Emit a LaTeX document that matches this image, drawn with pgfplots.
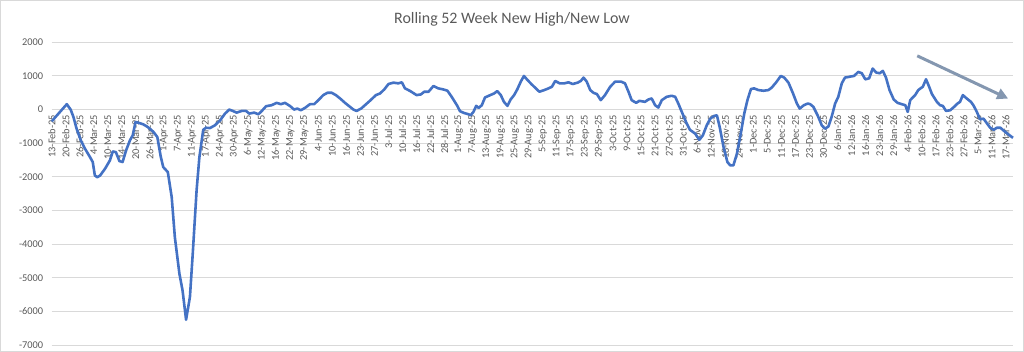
\documentclass[border=0pt]{standalone}
\usepackage{fontspec}
\setmainfont{Carlito}
\usepackage{pgfplots}
\pgfplotsset{compat=1.18}
\usetikzlibrary{arrows.meta}
\definecolor{linebl}{HTML}{4472C4}
\definecolor{txtgray}{HTML}{595959}
\definecolor{gridgray}{HTML}{D9D9D9}
\definecolor{arrowgray}{HTML}{8497B0}
\begin{document}
\begin{tikzpicture}
\draw[gridgray, line width=1bp] (0.5bp,0.5bp) rectangle (1023.5bp,351.5bp);
\node[font=\fontsize{16}{19}\selectfont, text=txtgray] at (512bp,333bp) {Rolling 52 Week New High/New Low};
\begin{axis}[
  at={(51.7bp,7bp)}, anchor=south west,
  scale only axis, width=961.3bp, height=302.7bp,
  xmin=0, xmax=274, ymin=-7000, ymax=2000,
  axis x line=middle, axis y line=left,
  axis line style={draw=none},
  hide obscured x ticks=false, hide obscured y ticks=false,
  major tick length=0pt,
  ymajorgrids, grid style={gridgray, line width=1bp},
  ytick={-7000,-6000,-5000,-4000,-3000,-2000,-1000,0,1000,2000},
  yticklabels={-7000,-6000,-5000,-4000,-3000,-2000,-1000,0,1000,2000},
  xtick={0,4,...,272},
  xticklabels={13-Feb-25, 20-Feb-25, 26-Feb-25, 4-Mar-25, 10-Mar-25, 14-Mar-25, 20-Mar-25, 26-Mar-25, 1-Apr-25, 7-Apr-25, 11-Apr-25, 17-Apr-25, 24-Apr-25, 30-Apr-25, 6-May-25, 12-May-25, 16-May-25, 22-May-25, 29-May-25, 4-Jun-25, 10-Jun-25, 16-Jun-25, 23-Jun-25, 27-Jun-25, 3-Jul-25, 10-Jul-25, 16-Jul-25, 22-Jul-25, 28-Jul-25, 1-Aug-25, 7-Aug-25, 13-Aug-25, 19-Aug-25, 25-Aug-25, 29-Aug-25, 5-Sep-25, 11-Sep-25, 17-Sep-25, 23-Sep-25, 29-Sep-25, 3-Oct-25, 9-Oct-25, 15-Oct-25, 21-Oct-25, 27-Oct-25, 31-Oct-25, 6-Nov-25, 12-Nov-25, 18-Nov-25, 24-Nov-25, 1-Dec-25, 5-Dec-25, 11-Dec-25, 17-Dec-25, 23-Dec-25, 30-Dec-25, 6-Jan-26, 12-Jan-26, 16-Jan-26, 23-Jan-26, 29-Jan-26, 4-Feb-26, 10-Feb-26, 17-Feb-26, 23-Feb-26, 27-Feb-26, 5-Mar-26, 11-Mar-26, 17-Mar-26},
  xticklabel style={rotate=90, anchor=east, font=\fontsize{10.4}{12}\selectfont, text=txtgray},
  yticklabel style={font=\fontsize{10.4}{12}\selectfont, text=txtgray},
  xticklabel shift=2bp, yticklabel shift=5bp,
  clip=false,
]
\addplot[linebl, line width=2.6bp, line join=round, mark=none] coordinates {
(0,-350) (4.3,160) (5.4,0) (6.2,-220) (7.1,-570) (8.3,-915) (9.5,-1165) (10.9,-1410)
(11.7,-1560) (12.3,-1960) (13.0,-2010) (13.8,-1960) (15.2,-1760) (16.6,-1510) (17.4,-1245)
(18.3,-1265) (19.3,-1530) (20.2,-1560) (21.2,-1215) (22.3,-915) (23.1,-765) (23.9,-370)
(24.7,-390) (26.1,-440) (27.1,-500) (28.0,-570) (29.0,-665) (30.1,-815) (31.1,-1410)
(31.8,-1710) (33.1,-1860) (34.2,-2600) (35.1,-3790) (36.4,-4880) (37.3,-5380) (38.3,-6250)
(39.4,-5570) (40.2,-4290) (41.3,-2400) (42.1,-1410) (43.2,-600) (44.0,-540) (45.1,-550)
(46.5,-470) (48.0,-320) (49.4,-120) (50.6,0) (51.6,-40) (52.7,-90) (54.2,-40) (55.4,-40)
(56.3,-120) (57.7,-90) (58.9,-140) (59.9,-40) (61.1,100) (62.7,130) (64.1,200) (65.3,160)
(66.5,200) (68.0,100) (69.1,0) (70.0,30) (71.0,-20) (72.2,50) (73.6,160) (74.8,160)
(76.0,280) (77.4,430) (78.6,500) (79.8,500) (81.0,430) (82.2,330) (83.6,200) (84.8,100)
(86.0,0) (86.9,-40) (88.2,30) (89.6,160) (90.9,280) (92.4,430) (93.6,480) (94.8,600)
(96.0,760) (97.4,800) (98.8,780) (99.8,810) (100.7,630) (102.2,550) (104.0,430) (105.2,450)
(106.2,530) (107.4,530) (108.8,700) (110.2,630) (111.6,600) (112.8,560) (114.0,380)
(115.5,130) (116.4,-50) (117.5,-100) (118.8,-140) (119.4,-170) (120.2,-70) (121.0,110)
(121.7,50) (122.6,130) (123.5,360) (125.0,430) (126.1,480) (127.0,550) (128.0,430)
(128.9,230) (129.9,110) (130.8,300) (131.8,430) (132.7,600) (133.7,830) (134.6,1000)
(135.6,880) (136.8,750) (138.3,600) (139.0,530) (140.4,580) (141.6,630) (142.6,680)
(143.5,850) (144.8,780) (146.1,780) (147.3,810) (148.5,760) (149.9,800) (150.8,850)
(151.6,950) (152.5,830) (153.5,580) (154.4,500) (155.4,460) (156.5,280) (157.7,430)
(159.2,680) (160.6,830) (162.3,830) (163.4,780) (164.4,530) (165.3,280) (166.6,200)
(167.5,260) (169.1,230) (170.1,300) (171.0,330) (172.0,130) (172.9,60) (173.9,280)
(175.3,380) (176.7,410) (177.7,380) (178.6,180) (179.6,-70) (180.8,-370) (181.9,-600)
(183.4,-715) (184.6,-900) (185.6,-765) (186.7,-470) (187.7,-270) (188.8,-190) (189.6,-170)
(190.4,-520) (191.5,-1115) (192.6,-1560) (193.4,-1660) (194.3,-1660) (195.3,-1315)
(196.4,-715) (197.4,-120) (198.3,280) (199.3,610) (200.2,630) (201.4,580) (202.9,560)
(204.3,580) (205.2,650) (206.5,810) (207.8,1000) (208.8,950) (210.0,800) (211.3,480)
(212.4,180) (213.2,30) (214.4,130) (215.5,180) (216.2,160) (217.1,80) (218.3,-170)
(219.5,-470) (220.4,-570) (221.4,-500) (222.3,-220) (223.3,180) (224.2,380) (225.2,780)
(226.1,950) (227.6,980) (228.7,1000) (229.9,1120) (230.9,1080) (231.9,900) (233.0,930)
(234.0,1220) (235.0,1100) (236.0,1080) (236.9,1150) (237.8,950) (238.8,580) (240.0,300)
(241.1,200) (242.3,160) (243.3,130) (244.0,-70) (244.7,280) (246.1,430) (247.0,580)
(248.3,680) (249.2,900) (249.9,730) (250.9,460) (252.3,230) (253.2,130) (254.0,110)
(254.9,-40) (256.1,-20) (257.2,80) (258.2,180) (258.9,230) (259.7,430) (260.8,330)
(262.0,230) (262.7,130) (263.7,-70) (264.6,-290) (265.6,-270) (266.5,-400) (267.5,-540)
(268.5,-600) (269.4,-540) (270.4,-540) (271.5,-640) (272.7,-740) (274.0,-840)
};
\draw[arrowgray, line width=3bp, -{Triangle[length=11bp,width=11bp]}] (axis cs:246.7,1598) -- (axis cs:272.6,328);
\end{axis}
\end{tikzpicture}
\end{document}
